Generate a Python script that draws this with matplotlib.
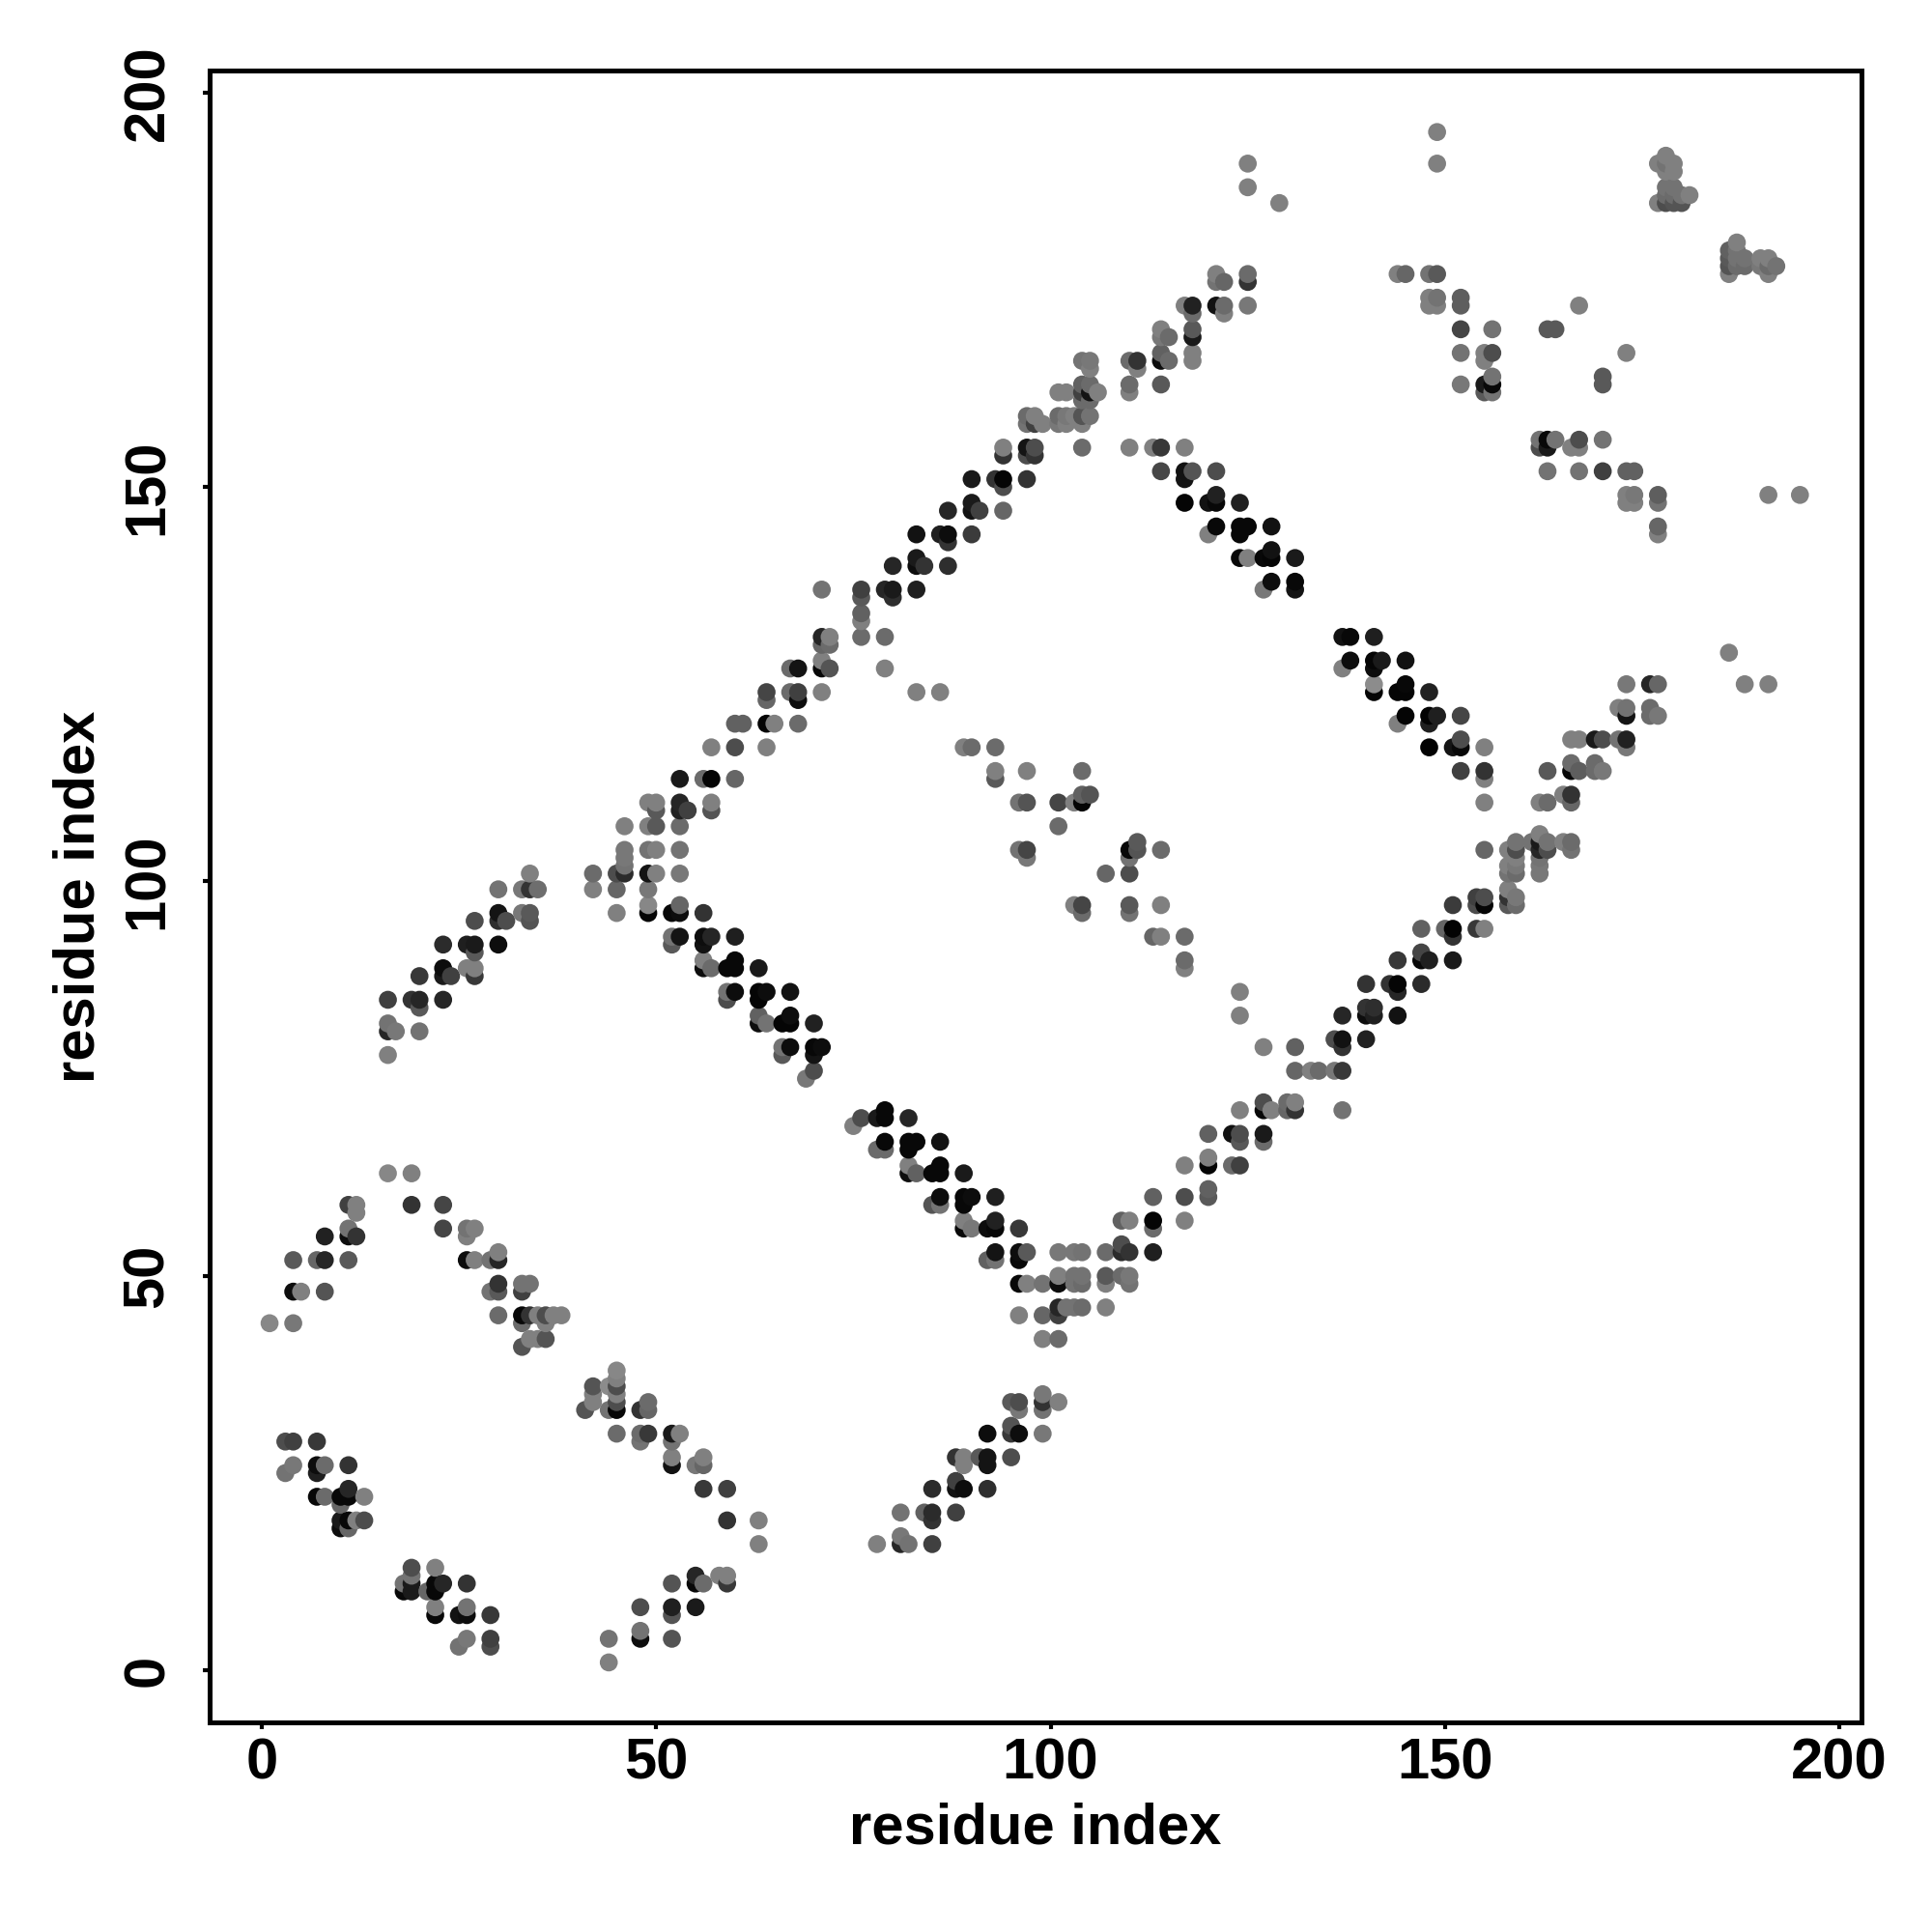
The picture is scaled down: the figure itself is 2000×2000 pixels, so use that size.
import numpy as np
import matplotlib
matplotlib.use('Agg')
import matplotlib.pyplot as plt

plt.rcParams['font.family'] = ['Liberation Sans', 'DejaVu Sans']
plt.rcParams['font.weight'] = 'bold'

# contacts as (residue i, residue j, grey level)
hairpin_low = [
    (1,44,.53),(4,44,.47),(4,48,.05),(5,48,.5),(8,48,.33),(4,52,.35),(7,52,.4),(8,52,.15),(11,52,.35),
    (8,55,.13),(11,55,.05),(12,55,.2),(11,56,.45),(11,59,.25),(12,59,.5),(12,58,.5),
    (16,63,.53),(19,63,.5),(19,59,.2),(23,59,.27),(23,56,.27),(26,56,.45),(27,56,.5),(26,55,.5),
    (26,52,.05),(27,52,.5),(29,52,.45),(30,52,.15),(30,53,.5),(30,49,.2),(29,48,.45),(30,48,.35),
    (33,49,.45),(34,49,.45),(33,48,.25),(30,45,.42),(33,45,.03),(34,45,.2),(35,45,.5),(36,45,.3),
    (37,45,.5),(38,45,.5),(33,44,.42),(36,44,.5),(34,42,.5),(35,42,.5),(36,42,.33),(33,41,.33),
]
strand_mid = [
    (45,38,.53),(45,37,.5),(45,36,.3),(44,36,.55),(42,36,.33),(42,35,.5),(42,34,.5),(41,33,.33),
    (45,35,.5),(45,34,.3),(45,33,.03),(44,33,.45),(48,33,.2),(49,34,.42),(49,33,.4),
    (45,30,.42),(48,30,.42),(49,30,.22),(52,30,.1),(53,30,.5),(48,29,.45),(52,29,.45),
    (52,27,.5),(52,26,.07),(55,26,.47),(56,26,.4),(56,27,.5),(56,23,.22),(59,23,.25),
    (59,19,.2),(63,19,.5),(63,16,.5),
]
corner_low = [
    (3,29,.3),(4,29,.25),(7,29,.22),(4,26,.47),(3,25,.45),(7,26,.05),(7,25,.12),(8,26,.42),(11,26,.2),
    (7,22,.03),(8,22,.42),(10,22,.03),(11,22,.03),(11,23,.15),(13,22,.5),(10,21,.4),
    (10,19,.1),(11,19,.03),(12,19,.5),(13,19,.3),(10,18,.05),(11,18,.4),
    (19,13,.3),(22,13,.5),(19,12,.45),(18,11,.45),(19,11,.1),(22,11,.03),(23,11,.15),(26,11,.2),
    (18,10,.03),(19,10,.1),(21,10,.4),(22,10,.03),(22,8,.5),(26,8,.45),(22,7,.03),(25,7,.07),
    (26,7,.05),(29,7,.22),(26,4,.47),(29,4,.25),(25,3,.45),(29,3,.3),
    (44,4,.45),(44,1,.5),(48,5,.45),(48,4,.05),(52,4,.33),(52,7,.33),(52,8,.12),(48,8,.3),(55,8,.1),
    (52,11,.33),(55,12,.15),(55,11,.03),(56,11,.42),(58,12,.5),(59,12,.5),(59,11,.22),
]
band_70_50 = [
    (76,70,.3),(75,69,.5),(78,70,.1),(79,71,.03),(79,70,.03),(82,70,.15),(79,67,.03),(78,66,.42),
    (79,66,.42),(82,67,.03),(83,67,.03),(82,66,.03),(86,67,.07),(82,64,.5),(82,63,.05),(83,63,.38),
    (85,63,.03),(86,64,.03),(86,63,.03),(89,63,.1),(86,60,.05),(85,59,.33),(86,59,.45),(89,60,.03),
    (90,60,.05),(89,59,.03),(93,60,.12),(89,57,.5),(89,56,.03),(90,56,.47),(92,56,.05),(93,57,.13),
    (93,56,.03),(96,56,.22),(93,53,.08),(92,52,.38),(93,52,.45),(96,53,.05),(96,52,.03),(97,53,.35),
    (101,53,.47),(103,53,.47),(96,49,.03),(97,49,.5),(99,49,.45),(101,50,.5),(101,49,.05),(103,50,.45),
    (103,49,.45),(96,45,.5),(99,45,.4),(101,46,.15),(101,45,.25),(102,46,.45),(103,46,.45),(104,46,.42),
    (99,42,.5),(101,42,.42),
]
band_35_16 = [
    (95,34,.35),(96,34,.3),(96,33,.47),(99,35,.47),(99,34,.2),(99,33,.45),(101,34,.5),(92,30,.05),
    (95,31,.33),(95,30,.22),(96,30,.05),(99,30,.47),(88,27,.2),(89,27,.5),(89,26,.5),(91,27,.35),
    (92,27,.08),(92,26,.08),(95,27,.3),(85,23,.17),(88,24,.25),(88,23,.07),(89,23,.05),(92,23,.18),
    (81,20,.45),(84,20,.38),(85,20,.17),(85,19,.2),(88,20,.25),(78,16,.5),(81,17,.47),(81,16,.15),
    (82,16,.45),(85,16,.25),
]
arm_78_101 = [
    (16,78,.5),(16,82,.45),(16,81,.15),(17,81,.47),(20,81,.45),(16,85,.25),(19,85,.2),(20,85,.15),
    (20,84,.35),(23,85,.15),(20,88,.22),(23,89,.05),(23,88,.1),(24,88,.25),(23,92,.17),(26,92,.12),
    (27,92,.1),(27,91,.35),(30,92,.05),(26,89,.5),(27,89,.5),(27,88,.22),(27,95,.3),(30,96,.08),
    (30,95,.18),(31,95,.3),(30,99,.45),(33,99,.47),(34,99,.2),(35,99,.43),(34,101,.5),(33,96,.47),
    (34,96,.35),(34,95,.33),
]
arm_96_127 = [
    (42,101,.42),(42,99,.5),(45,101,.3),(46,101,.17),(46,102,.45),(46,103,.47),(46,104,.47),(45,99,.4),
    (45,96,.5),(49,101,.08),(50,101,.5),(53,101,.47),(49,99,.47),(49,97,.53),(49,96,.02),(49,104,.45),
    (50,104,.5),(53,104,.45),(46,107,.5),(49,107,.5),(50,107,.35),(53,107,.42),(49,110,.5),(50,110,.5),
    (50,109,.35),(53,110,.15),(53,109,.13),(54,109,.25),(57,110,.5),(57,109,.33),(53,113,.1),(56,113,.42),
    (57,113,.02),(60,113,.4),(57,117,.5),(60,117,.3),(64,117,.5),(60,120,.38),(61,120,.38),(64,120,.02),
    (65,120,.5),(68,120,.42),(64,124,.27),(64,123,.4),(67,124,.42),(68,124,.25),(68,123,.05),(71,124,.5),
    (67,127,.42),(68,127,.08),(71,127,.03),(72,127,.33),(71,128,.5),(79,127,.5),
]
band_97_75 = [
    (52,93,.45),(52,92,.35),(53,93,.08),(56,93,.05),(57,93,.15),(56,92,.07),(60,93,.12),(53,97,.4),
    (52,96,.03),(53,96,.05),(56,96,.2),(56,90,.5),(56,89,.05),(57,89,.42),(59,89,.03),(60,90,.03),
    (60,89,.03),(63,89,.1),(59,86,.45),(59,85,.3),(60,86,.05),(63,86,.02),(64,86,.05),(63,85,.02),
    (67,86,.07),(63,83,.38),(63,82,.05),(64,82,.45),(66,82,.02),(67,83,.05),(67,82,.02),(70,82,.13),
    (66,79,.45),(66,78,.35),(67,79,.05),(70,79,.03),(71,79,.05),(70,78,.08),(70,76,.3),(69,75,.47),
]
inner_cross = [
    (76,131,.42),(79,131,.42),(83,124,.5),(86,124,.5),(89,117,.5),(90,117,.42),(93,117,.42),(93,114,.5),
    (93,113,.35),(97,114,.5),(104,114,.42),(96,110,.45),(97,110,.33),(101,110,.27),(103,110,.5),
    (104,110,.02),(104,111,.38),(105,111,.33),(101,107,.42),(96,104,.45),(97,104,.27),(97,103,.47),
    (110,104,.03),(111,105,.35),(111,104,.33),(110,103,.45),(114,104,.42),(107,101,.4),(110,101,.3),
    (103,97,.5),(104,97,.27),(104,96,.42),(110,97,.35),(110,96,.45),(114,97,.5),(113,93,.4),(114,93,.5),
    (117,93,.42),(117,90,.42),(117,89,.5),(124,86,.5),(124,83,.5),
]
band_53_80 = [
    (104,53,.45),(107,53,.42),(109,54,.3),(109,53,.17),(110,53,.2),(113,53,.12),(104,50,.45),(104,49,.42),
    (107,50,.35),(107,49,.5),(109,50,.42),(110,50,.47),(110,49,.45),(107,46,.5),(109,57,.38),(110,57,.5),
    (113,57,.02),(113,56,.42),(117,57,.5),(113,60,.38),(117,60,.3),(120,61,.38),(120,60,.35),(117,64,.5),
    (120,65,.5),(120,64,.02),(123,64,.42),(124,64,.25),(120,68,.38),(123,68,.07),(124,68,.3),(124,67,.35),
    (127,68,.1),(127,67,.42),(124,71,.5),(127,72,.3),(127,71,.03),(128,71,.5),(130,72,.42),(131,72,.5),
    (130,71,.4),(131,71,.2),(137,71,.45),(127,79,.5),(131,79,.38),(131,76,.4),(133,76,.5),(134,76,.42),
    (136,76,.47),(137,76,.22),
]
band_80_105 = [
    (136,80,.3),(137,80,.07),(137,79,.2),(140,80,.13),(137,83,.15),(140,84,.2),(140,83,.05),(141,83,.12),
    (144,83,.07),(141,84,.18),(140,87,.2),(143,87,.2),(144,87,.02),(144,86,.15),(147,87,.17),(144,90,.22),
    (147,91,.27),(147,90,.03),(148,90,.12),(151,90,.1),(147,94,.38),(150,94,.4),(151,94,.01),(151,93,.2),
    (154,94,.22),(155,94,.5),(151,97,.23),(154,98,.25),(155,98,.3),(154,97,.3),(155,97,.02),(158,99,.5),
    (159,98,.47),(158,98,.2),(158,97,.35),(159,97,.42),(158,101,.45),(159,101,.42),(158,102,.5),(159,102,.47),
    (159,103,.5),(158,104,.5),(159,104,.3),(159,105,.45),(155,104,.4),(161,105,.45),(162,106,.5),(162,105,.1),
    (163,105,.45),(162,104,.15),(163,104,.3),(162,103,.45),(162,102,.47),(162,101,.47),(165,105,.5),
    (166,105,.42),(166,104,.45),
]
band_110_129 = [
    (162,110,.5),(163,110,.42),(165,111,.5),(166,111,.2),(166,110,.4),(163,114,.35),(166,115,.42),(166,114,.03),
    (167,114,.37),(169,115,.42),(169,114,.42),(170,114,.47),(166,118,.5),(167,118,.5),(169,118,.1),(170,118,.3),
    (172,118,.45),(173,118,.13),(173,117,.47),(172,122,.5),(173,122,.45),(173,121,.08),(176,122,.42),(176,121,.42),
    (177,121,.47),(173,125,.47),(176,125,.15),(177,125,.4),(186,129,.5),(188,125,.5),(191,125,.5),
]
band_131_110 = [
    (137,131,.07),(138,131,.03),(141,131,.12),(138,128,.05),(137,127,.5),(141,128,.02),(142,128,.1),(141,127,.05),
    (145,128,.07),(141,125,.55),(141,124,.02),(144,124,.02),(145,125,.03),(145,124,.02),(148,124,.13),(145,121,.02),
    (144,120,.5),(148,121,.01),(149,121,.12),(148,120,.12),(152,121,.27),(148,117,.01),(151,117,.08),(152,118,.3),
    (152,117,.03),(155,117,.5),(152,114,.25),(155,114,.2),(155,113,.5),(155,110,.5),
]
arm_127_165 = [
    (71,137,.45),(76,137,.25),(76,136,.35),(79,137,.15),(80,137,.1),(80,136,.18),(83,137,.12),(76,134,.38),
    (76,133,.5),(71,131,.15),(72,131,.5),(71,130,.4),(72,130,.42),(80,140,.15),(83,141,.1),(83,140,.05),
    (84,140,.2),(87,140,.18),(83,144,.07),(86,144,.12),(87,144,.05),(87,143,.2),(90,144,.23),(87,147,.15),
    (90,148,.1),(90,147,.07),(91,147,.25),(94,147,.4),(90,151,.1),(93,151,.2),(94,151,.02),(94,150,.3),
    (97,151,.2),(94,155,.5),(94,154,.2),(97,155,.08),(98,155,.3),(97,154,.3),(98,154,.2),(104,155,.42),
    (97,159,.42),(98,159,.5),(97,158,.45),(98,158,.25),(99,158,.5),(101,159,.42),(102,159,.47),(103,159,.5),
    (104,159,.33),(105,159,.45),(101,158,.47),(102,158,.5),(104,158,.5),(101,162,.5),(102,162,.5),(104,163,.38),
    (104,162,.25),(105,163,.42),(105,162,.08),(106,162,.5),(104,161,.42),(105,161,.42),(104,166,.45),(105,166,.47),
    (105,165,.5),
]
arm_165_191 = [
    (110,166,.42),(111,166,.2),(111,165,.5),(110,163,.42),(110,162,.5),(114,163,.35),(114,170,.5),(114,169,.47),
    (115,169,.42),(114,167,.38),(114,166,.05),(115,166,.42),(118,167,.5),(118,166,.5),(118,170,.35),(118,169,.1),
    (117,173,.5),(118,173,.13),(118,172,.42),(121,173,.07),(122,173,.42),(122,172,.5),(125,173,.47),(121,176,.45),
    (122,176,.4),(121,177,.5),(125,176,.2),(125,177,.42),(125,191,.5),(125,188,.5),(129,186,.5),
]
band_155_137 = [
    (110,155,.5),(113,155,.5),(114,155,.22),(117,155,.5),(114,152,.28),(117,152,.07),(117,151,.08),(118,152,.33),
    (121,152,.3),(117,148,.02),(120,148,.07),(121,149,.13),(121,148,.03),(124,148,.12),(120,144,.5),(121,145,.03),
    (124,145,.03),(125,145,.03),(124,144,.03),(128,145,.07),(124,141,.03),(125,141,.5),(127,141,.03),(128,142,.07),
    (128,141,.02),(131,141,.1),(127,137,.47),(128,138,.05),(131,138,.03),(131,137,.08),
]
top_right = [
    (149,195,.5),(149,191,.5),(178,192,.5),(177,191,.5),(179,191,.5),(178,191,.45),(178,190,.5),(179,190,.5),
    (178,188,.45),(179,188,.45),(178,187,.42),(179,187,.42),(180,187,.45),(181,187,.5),(177,186,.5),(178,186,.3),
    (179,186,.33),(180,186,.33),(187,181,.5),(186,180,.38),(186,179,.35),(186,178,.33),(186,177,.5),(187,180,.45),
    (187,179,.45),(187,178,.42),(188,179,.45),(188,178,.42),(190,179,.5),(191,179,.5),(190,178,.47),(191,178,.42),
    (192,178,.45),(191,177,.5),(144,177,.5),(145,177,.4),(148,177,.45),(149,177,.35),(148,174,.5),(149,174,.45),
    (148,173,.5),(149,173,.5),(152,174,.37),(152,173,.37),(152,170,.27),(156,170,.45),(163,170,.35),(164,170,.35),
    (167,173,.5),(152,167,.45),(155,167,.5),(156,167,.3),(155,166,.5),(173,167,.5),(152,163,.47),(155,163,.1),
    (156,164,.45),(156,163,.03),(155,162,.35),(156,162,.45),(170,164,.35),(170,163,.35),(162,156,.45),(163,156,.03),
    (164,156,.45),(162,155,.3),(163,155,.1),(166,155,.5),(167,156,.3),(167,155,.5),(170,156,.45),(163,152,.45),
    (167,152,.45),(170,152,.25),(173,152,.38),(174,152,.38),(173,149,.5),(174,149,.47),(173,148,.5),(174,148,.5),
    (177,149,.37),(177,148,.45),(177,145,.4),(177,144,.5),(191,149,.5),(195,149,.5),
]

x_ticks = [0, 50, 100, 150, 200]
y_ticks = [0, 50, 100, 150, 200]

segments = [hairpin_low, strand_mid, corner_low, band_70_50, band_35_16, arm_78_101, arm_96_127,
            band_97_75, inner_cross, band_53_80, band_80_105, band_110_129, band_131_110,
            arm_127_165, arm_165_191, band_155_137, top_right]
contacts = np.array([c for seg in segments for c in seg])
# later residues sit on top in the original
order = np.lexsort((contacts[:, 1], contacts[:, 0]))
contacts = contacts[order]

fig = plt.figure(figsize=(20, 20), dpi=100)
ax = fig.add_axes([217 / 2000, 1 - 1783 / 2000, 1710 / 2000, 1710 / 2000])
ax.scatter(contacts[:, 0], contacts[:, 1], c=[str(g) for g in contacts[:, 2]], s=180, linewidths=0)

ax.set_xlim(-6.6, 202.8)
ax.set_ylim(-6.6, 202.8)
ax.set_xticks(x_ticks)
ax.set_yticks(y_ticks)
ax.tick_params(length=5, width=3, labelsize=43)
ax.tick_params(axis='x', pad=6)
ax.tick_params(axis='y', pad=21)
for label in ax.get_yticklabels():
    label.set_rotation(90)
    label.set_va('center')
for spine in ax.spines.values():
    spine.set_linewidth(3.6)
ax.set_xlabel("residue index", fontsize=43, fontweight='bold', labelpad=9)
ax.set_ylabel("residue index", fontsize=43, fontweight='bold', labelpad=12)

fig.savefig("out.png", dpi=100)
